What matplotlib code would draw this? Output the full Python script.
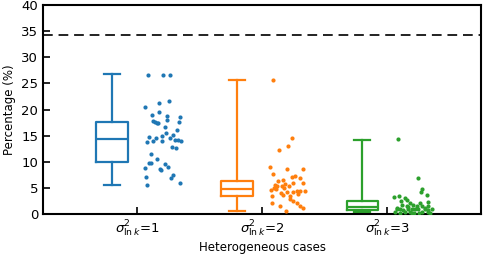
import numpy as np
import matplotlib.pyplot as plt

# Data
cases = [r'$\sigma^2_{\ln k}$=1', r'$\sigma^2_{\ln k}$=2', r'$\sigma^2_{\ln k}$=3']
colors = ['#1f77b4', '#ff7f0e', '#2ca02c']
reference_level = 34.3

# box statistics (whislo, q1, med, q3, whishi)
box_low = [5.5, 0.6, 0.4]
box_q1 = [9.9, 3.4, 0.8]
box_med = [14.4, 4.8, 1.3]
box_q3 = [17.6, 6.4, 2.5]
box_high = [26.8, 25.7, 14.2]

# scattered cases: horizontal offset (pixels) and value
case1_xpx = [148, 163, 170, 145, 159, 169, 159, 152, 167, 180, 153, 155, 157, 158, 167, 179,
             165, 177, 166, 173, 149, 162, 156, 170, 175, 178, 181, 147, 153, 162, 172, 176,
             151, 157, 149, 151, 145, 165, 160, 161, 168, 173, 146, 171, 147, 180]
case1_val = [26.7, 26.7, 26.7, 20.5, 21.2, 21.7, 19.5, 18.9, 18.7, 18.5, 17.9, 17.6, 17.4, 17.4, 18.0, 17.6,
             16.7, 16.1, 15.5, 15.2, 14.8, 14.9, 14.5, 14.5, 14.2, 14.2, 13.9, 13.8, 13.9, 14.0, 12.9, 12.7,
             11.6, 10.5, 9.8, 9.8, 8.8, 9.6, 8.7, 8.4, 9.0, 7.5, 7.2, 6.9, 5.5, 6.0]

case2_xpx = [273, 292, 288, 279, 270, 287, 303, 273, 295, 292, 300, 283, 278, 303, 293, 275,
             277, 274, 276, 282, 284, 289, 293, 297, 300, 305, 287, 281, 283, 290, 272, 293,
             297, 272, 280, 300, 303, 286, 285, 298, 271, 290]
case2_val = [25.7, 14.5, 13.1, 12.2, 9.0, 8.6, 8.6, 7.7, 7.3, 7.1, 6.9, 6.6, 6.4, 6.0, 6.0, 5.6,
             5.3, 5.1, 4.8, 5.3, 5.0, 5.4, 4.3, 4.4, 4.4, 4.5, 4.3, 4.1, 3.7, 3.4, 3.5, 2.6,
             2.2, 2.1, 1.5, 1.5, 1.1, 0.6, 5.8, 3.9, 4.6, 2.9]

case3_xpx = [398, 418, 422, 421, 427, 394, 399, 405, 401, 407, 420, 428, 410, 413, 402, 407,
             417, 422, 428, 397, 400, 403, 408, 412, 415, 418, 425, 428, 432, 395, 405, 410,
             422, 428, 400, 414, 419, 430, 397, 408, 425, 412]
case3_val = [14.3, 7.0, 4.8, 4.3, 3.6, 3.3, 3.4, 3.0, 2.5, 2.7, 2.2, 2.4, 2.1, 1.8, 1.8, 1.6,
             1.5, 1.5, 1.5, 0.9, 1.0, 0.8, 1.0, 0.9, 1.0, 0.9, 1.0, 0.8, 1.0, 0.5, 0.5, 0.5,
             0.5, 0.5, 0.2, 0.2, 0.3, 0.3, 1.2, 1.3, 1.1, 0.3]

scatter_x = [case1_xpx, case2_xpx, case3_xpx]
scatter_y = [case1_val, case2_val, case3_val]
scatter_center_px = [162, 287, 412]

plt.rcParams['font.size'] = 8.5
fig = plt.figure(figsize=(4.84, 2.59), dpi=100)
ax = fig.add_axes([0.089, 0.173, 0.905, 0.808])

positions = np.arange(1, 4)
for i in range(3):
    stats = [dict(whislo=box_low[i], q1=box_q1[i], med=box_med[i], q3=box_q3[i],
                  whishi=box_high[i], fliers=[])]
    lp = dict(color=colors[i], linewidth=1.6)
    ax.bxp(stats, positions=[positions[i] - 0.2], widths=0.25, showfliers=False,
           boxprops=lp, whiskerprops=lp, capprops=lp, medianprops=lp)
    xs = positions[i] + 0.2 + (np.array(scatter_x[i]) - scatter_center_px[i]) / 125.0
    ax.scatter(xs, scatter_y[i], s=9, color=colors[i], zorder=3, linewidths=0)

ax.axhline(reference_level, color='#222222', linestyle='--', linewidth=1.4, dashes=(5, 3))

ax.set_xlim(0.25, 3.75)
ax.set_ylim(0, 40)
ax.set_yticks(np.arange(0, 41, 5))
ax.set_xticks(positions)
ax.set_xticklabels(cases, fontsize=9.5)
ax.tick_params(axis='y', labelsize=9.5)
ax.tick_params(direction='in', length=5, width=1.2)
for sp in ax.spines.values():
    sp.set_linewidth(1.5)

ax.set_xlabel('Heterogeneous cases', labelpad=1)
ax.set_ylabel('Percentage (%)')

plt.savefig('out.png', dpi=100)
